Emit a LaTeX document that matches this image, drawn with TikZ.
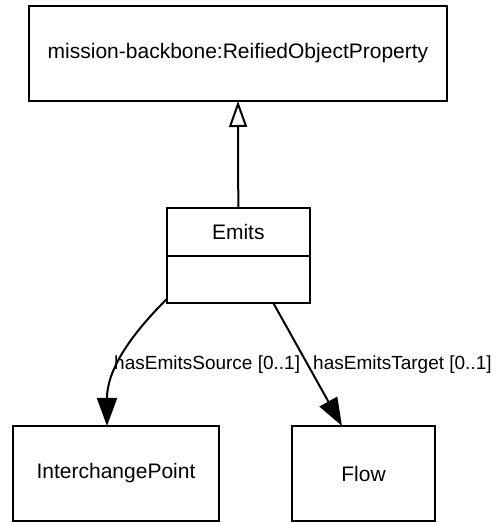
\documentclass[tikz,border=0pt]{standalone}
\usepackage{fontspec}
\setmainfont{Liberation Sans}
\usetikzlibrary{arrows.meta}
\begin{document}
\begin{tikzpicture}[x=1pt, y=1pt,
    cls/.style={draw, line width=2pt, rectangle, outer sep=0pt, inner sep=0pt, minimum height=95pt, font=\fontsize{21}{24}\selectfont},
    lbl/.style={inner sep=0pt, font=\fontsize{19}{22}\selectfont},
    gen/.style={line width=2pt, -{Triangle[open, length=26pt, width=18pt]}},
    assoc/.style={line width=2pt, -{Triangle[length=28pt, width=20pt]}}]
    \useasboundingbox (0, 0) rectangle (496, 523);
    \node[cls, minimum width=418pt] (prop) at (238, 469.5) {mission-backbone:ReifiedObjectProperty};
    \node[cls, minimum width=143pt, minimum height=48pt] (emits) at (238.3, 291) {Emits};
    \node[cls, minimum width=143pt, minimum height=47pt, anchor=north] (emitsbody) at (emits.south) {};
    \node[cls, minimum width=206pt] (ipoint) at (116, 49.5) {InterchangePoint};
    \node[cls, minimum width=143pt] (flow) at (363.5, 49.5) {Flow};
    \draw[gen] (emits.north) -- (prop.south);
    \draw[assoc] ([yshift=4pt]emitsbody.south west) to[out=-135, in=90] ([xshift=-9pt]ipoint.north);
    \draw[assoc] ([xshift=35pt]emitsbody.south) -- ([xshift=-21.5pt]flow.north);
    \node[lbl, anchor=west] (srclbl) at (114, 158) {hasEmitsSource [0..1]};
    \node[lbl, anchor=west] (tgtlbl) at (313, 158) {hasEmitsTarget [0..1]};
\end{tikzpicture}
\end{document}
